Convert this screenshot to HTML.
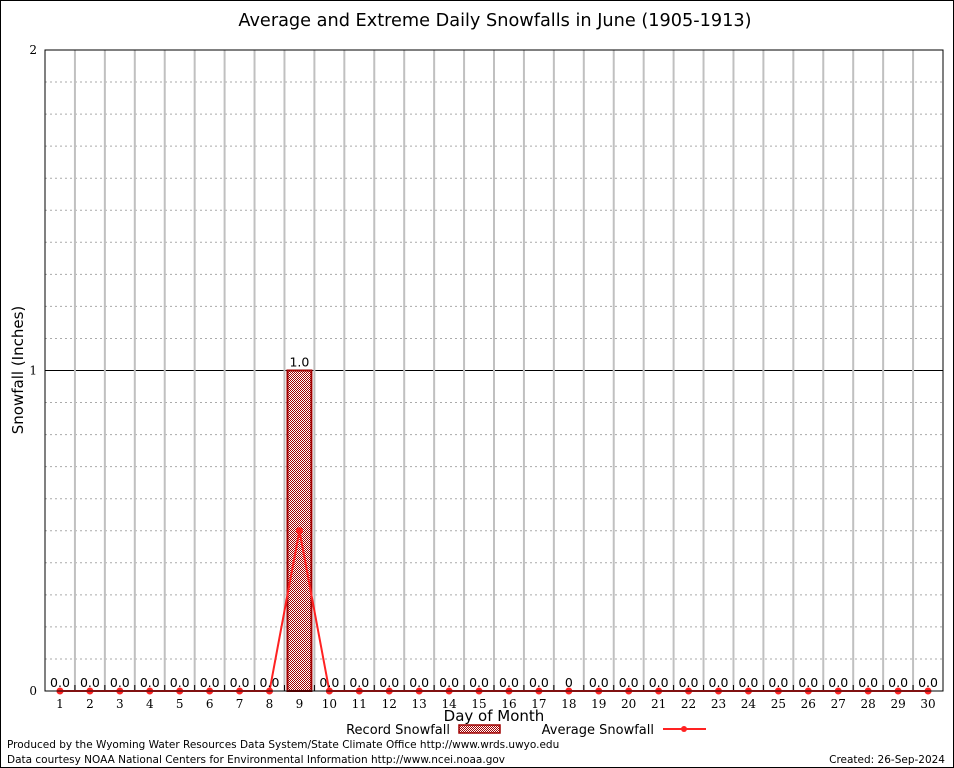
<!DOCTYPE html>
<html><head><meta charset="utf-8"><style>
html,body{margin:0;padding:0;background:#fff}
svg{display:block}
text{font-family:"DejaVu Sans","Liberation Sans",sans-serif}
text.serif{font-family:"DejaVu Serif","Liberation Serif",serif}
</style></head><body>
<svg id="chart" width="954" height="768" viewBox="0 0 954 768">
<defs>
<pattern id="chk" width="2" height="2" patternUnits="userSpaceOnUse">
<rect width="2" height="2" fill="#fff"/><rect width="1" height="1" fill="#a00000"/><rect x="1" y="1" width="1" height="1" fill="#a00000"/>
</pattern>
</defs>
<rect x="0.5" y="0.5" width="953" height="767" fill="#fff" stroke="#000"/>
<text x="495" y="26" font-size="17.7" text-anchor="middle">Average and Extreme Daily Snowfalls in June (1905-1913)</text>
<g id="grid"></g>
<g id="bars"></g>
<g id="line"></g>
<g id="labels"></g>
<rect x="45" y="50" width="898" height="641" fill="none" stroke="#000"/>
<text transform="translate(23,370) rotate(-90)" font-size="15" text-anchor="middle">Snowfall (Inches)</text>
<text x="494" y="721" font-size="15" text-anchor="middle">Day of Month</text>
<g>
<text x="450" y="734" font-size="13" text-anchor="end">Record Snowfall</text>
<rect x="459" y="725" width="41" height="8" fill="url(#chk)" stroke="#a00000" stroke-width="1.5"/>
</g>
<g>
<text x="654" y="734" font-size="13" text-anchor="end">Average Snowfall</text>
<line x1="663" y1="729" x2="706" y2="729" stroke="#f22" stroke-width="2"/>
<circle cx="684" cy="729" r="3" fill="#f22"/>
</g>
<text x="7" y="748" font-size="10.5">Produced by the Wyoming Water Resources Data System/State Climate Office http://www.wrds.uwyo.edu</text>
<text x="7" y="763" font-size="10.5">Data courtesy NOAA National Centers for Environmental Information http://www.ncei.noaa.gov</text>
<text x="945" y="763" font-size="10.5" text-anchor="end">Created:  26-Sep-2024</text>
</svg>
<script>
const days = [1,2,3,4,5,6,7,8,9,10,11,12,13,14,15,16,17,18,19,20,21,22,23,24,25,26,27,28,29,30];
const recordValues = [0,0,0,0,0,0,0,0,1.0,0,0,0,0,0,0,0,0,0,0,0,0,0,0,0,0,0,0,0,0,0];
const averageValues = [0,0,0,0,0,0,0,0,0.5,0,0,0,0,0,0,0,0,0,0,0,0,0,0,0,0,0,0,0,0,0];
const recordLabels = ["0.0","0.0","0.0","0.0","0.0","0.0","0.0","0.0","1.0","0.0","0.0","0.0","0.0","0.0","0.0","0.0","0.0","0","0.0","0.0","0.0","0.0","0.0","0.0","0.0","0.0","0.0","0.0","0.0","0.0"];
const yTicks = [0,1,2];

const NS="http://www.w3.org/2000/svg";
const X0=45,X1=943,Y0=691,Y1=50,YMAX=2;
const step=(X1-X0)/days.length;
const xs=d=>X0+(d-0.5)*step;
const ys=v=>Y0-v/YMAX*(Y0-Y1);
function mk(tag,attrs,parent){const e=document.createElementNS(NS,tag);for(const k in attrs)e.setAttribute(k,attrs[k]);parent.appendChild(e);return e;}
const grid=document.getElementById('grid'),bars=document.getElementById('bars'),line=document.getElementById('line'),labels=document.getElementById('labels');
for(let i=1;i<YMAX*10;i++){const v=i/10;const y=ys(v);
 if(i%10===0){const l=mk('line',{x1:X0,x2:X1,y1:y,y2:y,stroke:'#000','stroke-width':1},grid);}
 else{const l=mk('line',{x1:X0,x2:X1,y1:y,y2:y,stroke:'#aaa','stroke-dasharray':'2,3','stroke-width':1},grid);}}
for(let i=1;i<days.length;i++){const x=X0+i*step;
 const l=mk('line',{x1:x,x2:x,y1:Y1,y2:Y0,stroke:'#c0c0c0','stroke-width':2},grid);
 
 mk('line',{x1:x,x2:x,y1:Y0-6,y2:Y0,stroke:'#000'},grid);}
yTicks.forEach(v=>{const t=mk('text',{x:37,y:ys(v)+4,'font-size':12,'text-anchor':'end','class':'serif'},labels);t.textContent=v;
 
 mk('line',{x1:X0,x2:X0+6,y1:ys(v),y2:ys(v),stroke:'#000'},labels);mk('line',{x1:X1-6,x2:X1,y1:ys(v),y2:ys(v),stroke:'#000'},labels);});
days.forEach((d,i)=>{const v=recordValues[i];if(v>0){const w=step*0.8;
 const r=mk('rect',{x:xs(d)-w/2,y:ys(v),width:w,height:Y0-ys(v),fill:'url(#chk)',stroke:'#a00000','stroke-width':2},bars);
 }
 const t=mk('text',{x:xs(d),y:ys(v)-4,'font-size':12.5,'text-anchor':'middle'},labels);t.textContent=recordLabels[i];
 
 const xt=mk('text',{x:xs(d),y:Y0+17,'font-size':12,'text-anchor':'middle','class':'serif'},labels);xt.textContent=d;
 });
const pts=days.map((d,i)=>xs(d)+','+ys(averageValues[i])).join(' ');
const pl=mk('polyline',{points:pts,fill:'none',stroke:'#f22','stroke-width':2},line);

days.forEach((d,i)=>{const c=mk('circle',{cx:xs(d),cy:ys(averageValues[i]),r:3.5,fill:'#f22'},line);
 });
</script>
</body></html>
